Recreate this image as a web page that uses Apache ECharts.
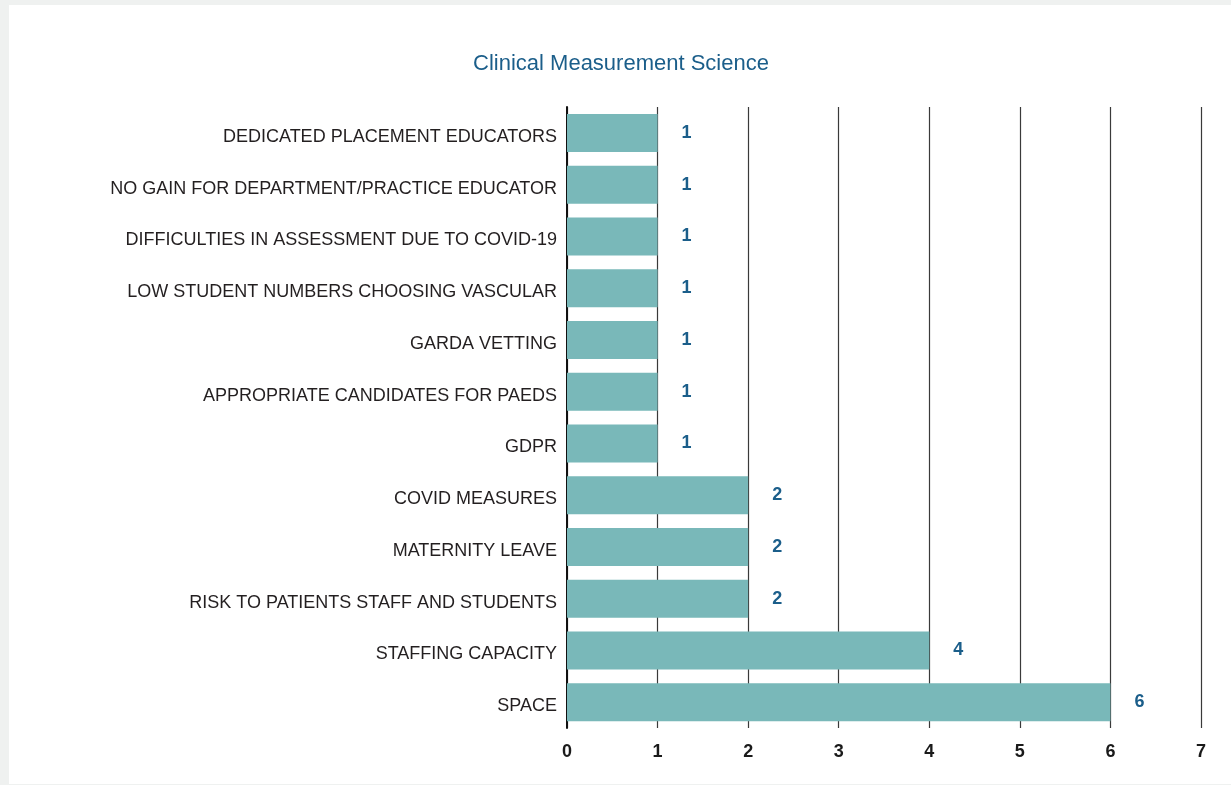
<!DOCTYPE html>
<html>
<head>
<meta charset="utf-8">
<title>Clinical Measurement Science</title>
<script src="https://cdn.jsdelivr.net/npm/echarts@6/dist/echarts.min.js"></script>
<style>
  html, body { margin: 0; padding: 0; background: #eff1f0; }
  #card {
    position: absolute;
    left: 9px; top: 5px; right: 0; bottom: 1px;
    background: #ffffff;
  }
  #main { width: 100%; height: 100%; }
</style>
</head>
<body>
<div id="card"><div id="main"></div></div>
<script>
// categories top to bottom
const categories = [
  "DEDICATED PLACEMENT EDUCATORS",
  "NO GAIN FOR DEPARTMENT/PRACTICE EDUCATOR",
  "DIFFICULTIES IN ASSESSMENT DUE TO COVID-19",
  "LOW STUDENT NUMBERS CHOOSING VASCULAR",
  "GARDA VETTING",
  "APPROPRIATE CANDIDATES FOR PAEDS",
  "GDPR",
  "COVID MEASURES",
  "MATERNITY LEAVE",
  "RISK TO PATIENTS STAFF AND STUDENTS",
  "STAFFING CAPACITY",
  "SPACE"
];
const counts = [1, 1, 1, 1, 1, 1, 1, 2, 2, 2, 4, 6];

const font = "'Liberation Sans', Arial, Helvetica, sans-serif";

const chart = echarts.init(document.getElementById("main"));
chart.setOption({
  animation: false,
  title: {
    text: "Clinical Measurement Science",
    left: 607,
    textAlign: "center",
    top: 43,
    textStyle: {
      color: "#1b5e8a",
      fontFamily: font,
      fontSize: 22,
      fontWeight: "normal"
    }
  },
  grid: {
    left: 558,
    right: 30,
    top: 102,
    bottom: 56
  },
  xAxis: {
    type: "value",
    min: 0,
    max: 7,
    interval: 1,
    axisLine: { show: false },
    axisTick: { show: false },
    splitLine: { show: true, lineStyle: { color: "#3a3a3a", width: 1.2 } },
    axisLabel: {
      margin: 15,
      color: "#1a1a1a",
      fontFamily: font,
      fontSize: 18,
      fontWeight: "bold"
    }
  },
  yAxis: {
    type: "category",
    inverse: true,
    data: categories,
    axisLine: { show: true, lineStyle: { color: "#111", width: 2 } },
    axisTick: { show: false },
    axisLabel: {
      margin: 10,
      formatter: function (v) {
        return "{c|" + v + "}";
      },
      rich: {
        c: {
          padding: [8, 0, 0, 0],
          color: "#231f20",
          fontFamily: font,
          fontSize: 18
        }
      }
    }
  },
  series: [
    {
      type: "bar",
      data: counts,
      barWidth: 38,
      itemStyle: { color: "#79b8b9" },
      label: {
        show: true,
        position: "right",
        distance: 24,
        color: "#1b5e8a",
        fontFamily: font,
        fontSize: 18,
        fontWeight: "bold"
      }
    }
  ]
});
</script>
</body>
</html>
